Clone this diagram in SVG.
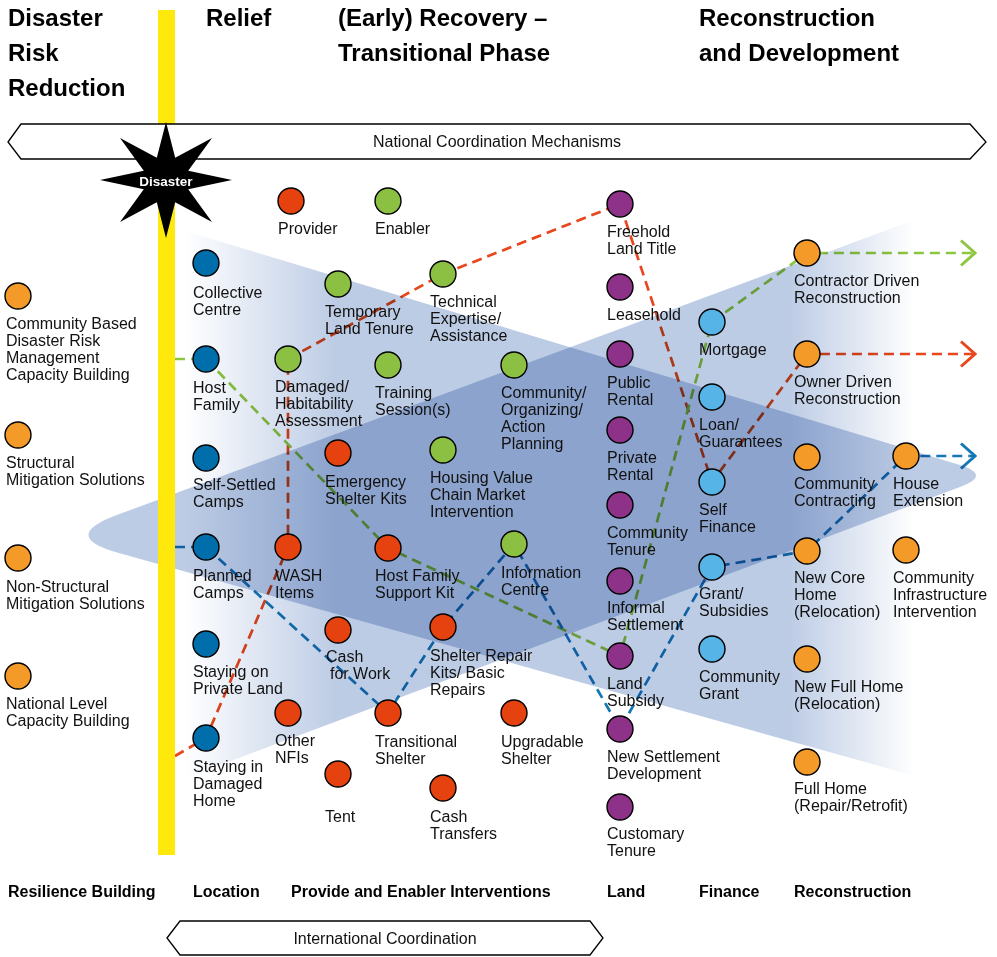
<svg xmlns="http://www.w3.org/2000/svg" width="997" height="957" viewBox="0 0 997 957">
<defs>
<style>
text{font-family:"Liberation Sans",Arial,sans-serif;fill:#111}
.lbl{font-size:16px}
.hd{font-size:24px;font-weight:bold;fill:#000}
.ft{font-size:16px;font-weight:bold;fill:#000}
.n{stroke:#000;stroke-width:1.4}
.pr{fill:#e5420f}.en{fill:#8cc043}.la{fill:#8d3189}.lo{fill:#006eab}.fi{fill:#56b4e6}.re{fill:#f39a28}
.c{fill:none;stroke-width:2.7;stroke-dasharray:10 6}
.cr{stroke:#e8461c}.cg{stroke:#8dc63f}.cb{stroke:#1578b5}
.sh{mix-blend-mode:multiply}
.ban{fill:#fff;stroke:#000;stroke-width:1.3}
</style>
<linearGradient id="gA" gradientUnits="userSpaceOnUse" x1="185" y1="0" x2="335" y2="0"><stop offset="0" stop-color="#fff"/><stop offset="1" stop-color="#bdcce5"/></linearGradient>
<linearGradient id="gB" gradientUnits="userSpaceOnUse" x1="790" y1="0" x2="915" y2="0"><stop offset="0" stop-color="#bdcce5"/><stop offset="1" stop-color="#fff"/></linearGradient>
<marker id="aR" viewBox="0 0 17 28" refX="15.5" refY="14" markerUnits="userSpaceOnUse" markerWidth="17" markerHeight="28" orient="auto"><path d="M1.5,1.5 L15.5,14 L1.5,26.5" fill="none" stroke="#e8461c" stroke-width="3"/></marker>
<marker id="aG" viewBox="0 0 17 28" refX="15.5" refY="14" markerUnits="userSpaceOnUse" markerWidth="17" markerHeight="28" orient="auto"><path d="M1.5,1.5 L15.5,14 L1.5,26.5" fill="none" stroke="#8dc63f" stroke-width="3"/></marker>
<marker id="aB" viewBox="0 0 17 28" refX="15.5" refY="14" markerUnits="userSpaceOnUse" markerWidth="17" markerHeight="28" orient="auto"><path d="M1.5,1.5 L15.5,14 L1.5,26.5" fill="none" stroke="#1578b5" stroke-width="3"/></marker>
</defs>
<rect x="0" y="0" width="997" height="957" fill="#fff"/>

<g id="connectors">
<polyline class="c cr" points="175,756 206,738 288,547 288,359 443,274 620,204 712,482 807,354 975,354" marker-end="url(#aR)"/>
<polyline class="c cg" points="175,359 206,359 388,548 620,656 712,322 807,253 975,253" marker-end="url(#aG)"/>
<polyline class="c cb" points="175,547 206,547 388,713 443,627 514,544 620,729 712,567 807,551 906,456 975,456" marker-end="url(#aB)"/>
</g>

<g id="background-shapes">
<path class="sh" fill="url(#gB)" d="M118,514.6 L975,197.5 L975,792.8 L118,552.8 Q59,536.4 118,514.6 Z"/>
<path class="sh" fill="url(#gA)" d="M185,230.9 L960,465 Q992,475 960,487 L185,778.3 Z"/>
</g>

<rect id="disaster-line" x="158" y="10" width="17" height="845" fill="#ffe90d"/>

<g id="national-coordination">
<polygon class="ban" points="8,142 21,124 970,124 986,142 970,159 21,159"/>
<text class="lbl" x="497" y="147" text-anchor="middle">National Coordination Mechanisms</text>
</g>
<g id="international-coordination">
<polygon class="ban" points="167,938 180,921 590,921 603,938 590,955 180,955"/>
<text class="lbl" x="385" y="944" text-anchor="middle">International Coordination</text>
</g>

<g id="disaster-star">
<polygon fill="#000" points="166,122 175.2,157.8 212,138 188.2,170.8 232,180 188.2,189.2 212,222 175.2,202.2 166,238 156.8,202.2 120,222 143.8,189.2 100,180 143.8,170.8 120,138 156.8,157.8"/>
<text x="166" y="186" text-anchor="middle" style="font-size:13.5px;font-weight:bold;fill:#fff">Disaster</text>
</g>

<g id="headings">
<text class="hd" x="8" y="26">Disaster</text>
<text class="hd" x="8" y="61">Risk</text>
<text class="hd" x="8" y="96">Reduction</text>
<text class="hd" x="206" y="26">Relief</text>
<text class="hd" x="338" y="26">(Early) Recovery –</text>
<text class="hd" x="338" y="61">Transitional Phase</text>
<text class="hd" x="699" y="26">Reconstruction</text>
<text class="hd" x="699" y="61">and Development</text>
</g>

<g id="column-labels">
<text class="ft" x="8" y="897">Resilience Building</text>
<text class="ft" x="193" y="897">Location</text>
<text class="ft" x="291" y="897">Provide and Enabler Interventions</text>
<text class="ft" x="607" y="897">Land</text>
<text class="ft" x="699" y="897">Finance</text>
<text class="ft" x="794" y="897">Reconstruction</text>
</g>

<g id="legend-provider"><circle class="n pr" cx="291" cy="201" r="13"/><text class="lbl" x="278" y="234">Provider</text></g>
<g id="legend-enabler"><circle class="n en" cx="388" cy="201" r="13"/><text class="lbl" x="375" y="234">Enabler</text></g>

<g id="cbdrm"><circle class="n re" cx="18" cy="296" r="13"/><text class="lbl"><tspan x="6" y="329">Community Based</tspan><tspan x="6" y="346">Disaster Risk</tspan><tspan x="6" y="363">Management</tspan><tspan x="6" y="380">Capacity Building</tspan></text></g>
<g id="structural"><circle class="n re" cx="18" cy="435" r="13"/><text class="lbl"><tspan x="6" y="468">Structural</tspan><tspan x="6" y="485">Mitigation Solutions</tspan></text></g>
<g id="non-structural"><circle class="n re" cx="18" cy="558" r="13"/><text class="lbl"><tspan x="6" y="592">Non-Structural</tspan><tspan x="6" y="609">Mitigation Solutions</tspan></text></g>
<g id="national-level"><circle class="n re" cx="18" cy="676" r="13"/><text class="lbl"><tspan x="6" y="709">National Level</tspan><tspan x="6" y="726">Capacity Building</tspan></text></g>

<g id="collective-centre"><circle class="n lo" cx="206" cy="263" r="13"/><text class="lbl"><tspan x="193" y="298">Collective</tspan><tspan x="193" y="315">Centre</tspan></text></g>
<g id="host-family"><circle class="n lo" cx="206" cy="359" r="13"/><text class="lbl"><tspan x="193" y="393">Host</tspan><tspan x="193" y="410">Family</tspan></text></g>
<g id="self-settled-camps"><circle class="n lo" cx="206" cy="458" r="13"/><text class="lbl"><tspan x="193" y="490">Self-Settled</tspan><tspan x="193" y="507">Camps</tspan></text></g>
<g id="planned-camps"><circle class="n lo" cx="206" cy="547" r="13"/><text class="lbl"><tspan x="193" y="581">Planned</tspan><tspan x="193" y="598">Camps</tspan></text></g>
<g id="private-land"><circle class="n lo" cx="206" cy="644" r="13"/><text class="lbl"><tspan x="193" y="677">Staying on</tspan><tspan x="193" y="694">Private Land</tspan></text></g>
<g id="damaged-home"><circle class="n lo" cx="206" cy="738" r="13"/><text class="lbl"><tspan x="193" y="772">Staying in</tspan><tspan x="193" y="789">Damaged</tspan><tspan x="193" y="806">Home</tspan></text></g>

<g id="damage-assessment"><circle class="n en" cx="288" cy="359" r="13"/><text class="lbl"><tspan x="275" y="392">Damaged/</tspan><tspan x="275" y="409">Habitability</tspan><tspan x="275" y="426">Assessment</tspan></text></g>
<g id="wash-items"><circle class="n pr" cx="288" cy="547" r="13"/><text class="lbl"><tspan x="275" y="581">WASH</tspan><tspan x="275" y="598">Items</tspan></text></g>
<g id="other-nfis"><circle class="n pr" cx="288" cy="713" r="13"/><text class="lbl"><tspan x="275" y="746">Other</tspan><tspan x="275" y="763">NFIs</tspan></text></g>

<g id="temporary-land-tenure"><circle class="n en" cx="338" cy="284" r="13"/><text class="lbl"><tspan x="325" y="317">Temporary</tspan><tspan x="325" y="334">Land Tenure</tspan></text></g>
<g id="emergency-shelter-kits"><circle class="n pr" cx="338" cy="453" r="13"/><text class="lbl"><tspan x="325" y="487">Emergency</tspan><tspan x="325" y="504">Shelter Kits</tspan></text></g>
<g id="cash-for-work"><circle class="n pr" cx="338" cy="630" r="13"/><text class="lbl"><tspan x="326" y="662">Cash</tspan><tspan x="330" y="679">for Work</tspan></text></g>
<g id="tent"><circle class="n pr" cx="338" cy="774" r="13"/><text class="lbl" x="325" y="822">Tent</text></g>

<g id="training-sessions"><circle class="n en" cx="388" cy="365" r="13"/><text class="lbl"><tspan x="375" y="398">Training</tspan><tspan x="375" y="415">Session(s)</tspan></text></g>
<g id="host-family-kit"><circle class="n pr" cx="388" cy="548" r="13"/><text class="lbl"><tspan x="375" y="581">Host Family</tspan><tspan x="375" y="598">Support Kit</tspan></text></g>
<g id="transitional-shelter"><circle class="n pr" cx="388" cy="713" r="13"/><text class="lbl"><tspan x="375" y="747">Transitional</tspan><tspan x="375" y="764">Shelter</tspan></text></g>

<g id="technical-expertise"><circle class="n en" cx="443" cy="274" r="13"/><text class="lbl"><tspan x="430" y="307">Technical</tspan><tspan x="430" y="324">Expertise/</tspan><tspan x="430" y="341">Assistance</tspan></text></g>
<g id="housing-value-chain"><circle class="n en" cx="443" cy="450" r="13"/><text class="lbl"><tspan x="430" y="483">Housing Value</tspan><tspan x="430" y="500">Chain Market</tspan><tspan x="430" y="517">Intervention</tspan></text></g>
<g id="shelter-repair-kits"><circle class="n pr" cx="443" cy="627" r="13"/><text class="lbl"><tspan x="430" y="661">Shelter Repair</tspan><tspan x="430" y="678">Kits/ Basic</tspan><tspan x="430" y="695">Repairs</tspan></text></g>
<g id="cash-transfers"><circle class="n pr" cx="443" cy="788" r="13"/><text class="lbl"><tspan x="430" y="822">Cash</tspan><tspan x="430" y="839">Transfers</tspan></text></g>

<g id="community-organizing"><circle class="n en" cx="514" cy="365" r="13"/><text class="lbl"><tspan x="501" y="398">Community/</tspan><tspan x="501" y="415">Organizing/</tspan><tspan x="501" y="432">Action</tspan><tspan x="501" y="449">Planning</tspan></text></g>
<g id="information-centre"><circle class="n en" cx="514" cy="544" r="13"/><text class="lbl"><tspan x="501" y="578">Information</tspan><tspan x="501" y="595">Centre</tspan></text></g>
<g id="upgradable-shelter"><circle class="n pr" cx="514" cy="713" r="13"/><text class="lbl"><tspan x="501" y="747">Upgradable</tspan><tspan x="501" y="764">Shelter</tspan></text></g>

<g id="freehold"><circle class="n la" cx="620" cy="204" r="13"/><text class="lbl"><tspan x="607" y="237">Freehold</tspan><tspan x="607" y="254">Land Title</tspan></text></g>
<g id="leasehold"><circle class="n la" cx="620" cy="287" r="13"/><text class="lbl" x="607" y="320">Leasehold</text></g>
<g id="public-rental"><circle class="n la" cx="620" cy="354" r="13"/><text class="lbl"><tspan x="607" y="388">Public</tspan><tspan x="607" y="405">Rental</tspan></text></g>
<g id="private-rental"><circle class="n la" cx="620" cy="430" r="13"/><text class="lbl"><tspan x="607" y="463">Private</tspan><tspan x="607" y="480">Rental</tspan></text></g>
<g id="community-tenure"><circle class="n la" cx="620" cy="505" r="13"/><text class="lbl"><tspan x="607" y="538">Community</tspan><tspan x="607" y="555">Tenure</tspan></text></g>
<g id="informal-settlement"><circle class="n la" cx="620" cy="581" r="13"/><text class="lbl"><tspan x="607" y="613">Informal</tspan><tspan x="607" y="630">Settlement</tspan></text></g>
<g id="land-subsidy"><circle class="n la" cx="620" cy="656" r="13"/><text class="lbl"><tspan x="607" y="689">Land</tspan><tspan x="607" y="706">Subsidy</tspan></text></g>
<g id="new-settlement"><circle class="n la" cx="620" cy="729" r="13"/><text class="lbl"><tspan x="607" y="762">New Settlement</tspan><tspan x="607" y="779">Development</tspan></text></g>
<g id="customary-tenure"><circle class="n la" cx="620" cy="807" r="13"/><text class="lbl"><tspan x="607" y="839">Customary</tspan><tspan x="607" y="856">Tenure</tspan></text></g>

<g id="mortgage"><circle class="n fi" cx="712" cy="322" r="13"/><text class="lbl" x="699" y="355">Mortgage</text></g>
<g id="loan-guarantees"><circle class="n fi" cx="712" cy="397" r="13"/><text class="lbl"><tspan x="699" y="430">Loan/</tspan><tspan x="699" y="447">Guarantees</tspan></text></g>
<g id="self-finance"><circle class="n fi" cx="712" cy="482" r="13"/><text class="lbl"><tspan x="699" y="515">Self</tspan><tspan x="699" y="532">Finance</tspan></text></g>
<g id="grant-subsidies"><circle class="n fi" cx="712" cy="567" r="13"/><text class="lbl"><tspan x="699" y="599">Grant/</tspan><tspan x="699" y="616">Subsidies</tspan></text></g>
<g id="community-grant"><circle class="n fi" cx="712" cy="649" r="13"/><text class="lbl"><tspan x="699" y="682">Community</tspan><tspan x="699" y="699">Grant</tspan></text></g>

<g id="contractor-driven"><circle class="n re" cx="807" cy="253" r="13"/><text class="lbl"><tspan x="794" y="286">Contractor Driven</tspan><tspan x="794" y="303">Reconstruction</tspan></text></g>
<g id="owner-driven"><circle class="n re" cx="807" cy="354" r="13"/><text class="lbl"><tspan x="794" y="387">Owner Driven</tspan><tspan x="794" y="404">Reconstruction</tspan></text></g>
<g id="community-contracting"><circle class="n re" cx="807" cy="457" r="13"/><text class="lbl"><tspan x="794" y="489">Community</tspan><tspan x="794" y="506">Contracting</tspan></text></g>
<g id="new-core-home"><circle class="n re" cx="807" cy="551" r="13"/><text class="lbl"><tspan x="794" y="583">New Core</tspan><tspan x="794" y="600">Home</tspan><tspan x="794" y="617">(Relocation)</tspan></text></g>
<g id="new-full-home"><circle class="n re" cx="807" cy="659" r="13"/><text class="lbl"><tspan x="794" y="692">New Full Home</tspan><tspan x="794" y="709">(Relocation)</tspan></text></g>
<g id="full-home-repair"><circle class="n re" cx="807" cy="762" r="13"/><text class="lbl"><tspan x="794" y="794">Full Home</tspan><tspan x="794" y="811">(Repair/Retrofit)</tspan></text></g>

<g id="house-extension"><circle class="n re" cx="906" cy="456" r="13"/><text class="lbl"><tspan x="893" y="489">House</tspan><tspan x="893" y="506">Extension</tspan></text></g>
<g id="community-infrastructure"><circle class="n re" cx="906" cy="550" r="13"/><text class="lbl"><tspan x="893" y="583">Community</tspan><tspan x="893" y="600">Infrastructure</tspan><tspan x="893" y="617">Intervention</tspan></text></g>
</svg>
